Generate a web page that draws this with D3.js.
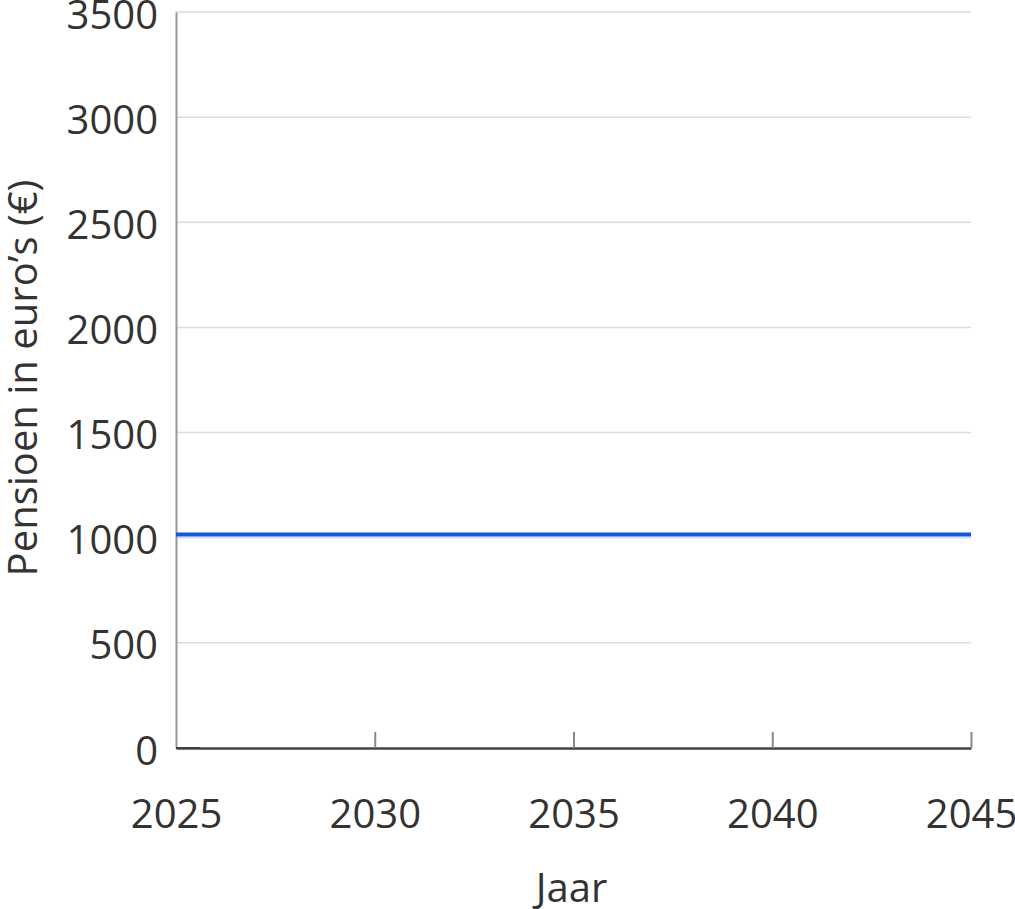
<!DOCTYPE html>
<html>
<head>
<meta charset="utf-8">
<script src="https://cdn.jsdelivr.net/npm/d3@7"></script>
<style>
  body { margin: 0; background: #fff; }
  text { font-family: "Open Sans", sans-serif; fill: #333; }
</style>
</head>
<body>
<div id="chart"></div>
<script>
// data
const years = [2025, 2026, 2027, 2028, 2029, 2030, 2031, 2032, 2033, 2034, 2035,
               2036, 2037, 2038, 2039, 2040, 2041, 2042, 2043, 2044, 2045];
const pension = [1015, 1015, 1015, 1015, 1015, 1015, 1015, 1015, 1015, 1015, 1015,
                 1015, 1015, 1015, 1015, 1015, 1015, 1015, 1015, 1015, 1015];
const xTicks = [2025, 2030, 2035, 2040, 2045];
const yTicks = [0, 500, 1000, 1500, 2000, 2500, 3000, 3500];

const margin = {top: 12, right: 44, bottom: 161, left: 176};
const width = 1015 - margin.left - margin.right;
const height = 909 - margin.top - margin.bottom;

const svg = d3.select("#chart")
    .append("svg")
    .attr("width", 1015)
    .attr("height", 909)
    .append("g")
    .attr("transform", "translate(" + margin.left + "," + margin.top + ")");

const x = d3.scaleLinear().domain([2025, 2045]).range([0, width]);
const y = d3.scaleLinear().domain([0, 3500]).range([height, 0]);

// gridlines
svg.append("g")
    .selectAll("line")
    .data(yTicks.filter(d => d > 0))
    .join("line")
    .attr("x1", 0)
    .attr("x2", width)
    .attr("y1", d => y(d))
    .attr("y2", d => y(d))
    .attr("stroke", "#dcdcdc")
    .attr("stroke-width", 1.5);

// y axis
const yAxis = svg.append("g")
    .call(d3.axisLeft(y).tickValues(yTicks).tickFormat(d3.format("d")).tickSize(0).tickPadding(18));
yAxis.select(".domain").attr("stroke", "#999").attr("stroke-width", 2);
yAxis.selectAll("text")
    .style("font-size", "40px")
    .attr("dy", "0.4em")
    .attr("fill", "#333");

// short tick at 0
svg.append("line")
    .attr("x1", 0).attr("x2", 24)
    .attr("y1", y(0)).attr("y2", y(0))
    .attr("stroke", "#222").attr("stroke-width", 2);

// x axis
const xAxis = svg.append("g")
    .attr("transform", "translate(0," + height + ")")
    .call(d3.axisBottom(x).tickValues(xTicks).tickFormat(d3.format("d")).tickSize(0).tickPadding(52));
xAxis.select(".domain").attr("stroke", "#444").attr("stroke-width", 2.5);
xAxis.selectAll("text").style("font-size", "40px").attr("fill", "#333");
xAxis.selectAll(".tick")
    .filter(d => d !== 2025)
    .append("line")
    .attr("y1", 0)
    .attr("y2", -16)
    .attr("stroke", "#888")
    .attr("stroke-width", 2);

// the line
svg.append("path")
    .datum(years.map((d, i) => [d, pension[i]]))
    .attr("fill", "none")
    .attr("stroke", "#0a5be6")
    .attr("stroke-width", 4)
    .attr("d", d3.line()
        .x(d => x(d[0]))
        .y(d => y(d[1])));

// axis titles
svg.append("text")
    .attr("transform", "rotate(-90)")
    .attr("x", -366)
    .attr("y", -139)
    .attr("text-anchor", "middle")
    .style("font-size", "40px")
    .text("Pensioen in euro\u2019s (\u20ac)");

svg.append("text")
    .attr("x", width / 2 - 2)
    .attr("y", height + 154)
    .attr("text-anchor", "middle")
    .style("font-size", "40px")
    .text("Jaar");
</script>
</body>
</html>
